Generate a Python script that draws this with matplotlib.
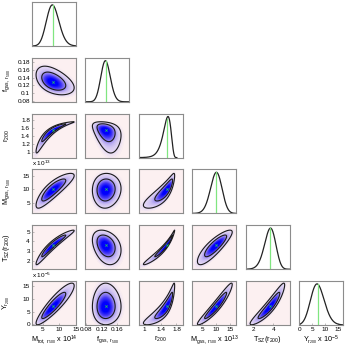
import numpy as np
import matplotlib
matplotlib.use("Agg")
import matplotlib.pyplot as plt
from matplotlib.colors import LinearSegmentedColormap

plt.rcParams['font.family'] = ['Liberation Sans', 'DejaVu Sans']
plt.rcParams['mathtext.fontset'] = 'custom'
plt.rcParams['mathtext.rm'] = 'Liberation Sans'
plt.rcParams['mathtext.it'] = 'Liberation Sans'

# ---- data ----
labels = [r"M$_{tot,\ r_{500}}$ x 10$^{14}$", r"f$_{gas,\ r_{500}}$", r"r$_{200}$",
          r"M$_{gas,\ r_{500}}$ x 10$^{13}$", r"T$_{SZ}$(r$_{200}$)", r"Y$_{r_{200}}$ x 10$^{-5}$"]
ylabels = [None, r"f$_{gas,\ r_{500}}$", r"r$_{200}$", r"M$_{gas,\ r_{500}}$",
           r"T$_{SZ}$(r$_{200}$)", r"Y$_{r_{200}}$"]
offset_texts = [None, None, None, r"x 10$^{13}$", None, r"x 10$^{-5}$"]
medians = [8.0, 0.130, 1.55, 10.0, 3.65, 7.0]
scales = [1.9, 0.0122, 0.11, 2.1, 0.58, 2.7]
skews = [0.08, 0.05, -0.35, -0.05, -0.1, 0.08]
contour_radii = [3.0, 1.9]   # outer / inner contour, in units of the scale
limits = [(1.7, 15.0), (0.078, 0.191), (0.85, 1.96), (1.3, 17.3), (1.16, 5.66), (-0.3, 17.0)]
xticks = [[5, 10, 15], [0.08, 0.12, 0.16], [1, 1.4, 1.8], [5, 10, 15], [2, 4], [0, 5, 10, 15]]
yticks = [None, [0.08, 0.1, 0.12, 0.14, 0.16, 0.18], [1, 1.2, 1.4, 1.6, 1.8],
          [5, 10, 15], [2, 3, 4, 5], [0, 5, 10, 15]]
# pairwise correlations (row i, column j)
corr = {(1, 0): -0.45, (2, 0): 0.96, (2, 1): -0.35, (3, 0): 0.85, (3, 1): 0.05,
        (3, 2): 0.85, (4, 0): 0.96, (4, 1): -0.3, (4, 2): 0.98, (4, 3): 0.85,
        (5, 0): 0.9, (5, 1): 0.0, (5, 2): 0.9, (5, 3): 0.95, (5, 4): 0.93}
# ------------------------------------

n = len(labels)


def transform(k, z):
    a = skews[k]
    return medians[k] + scales[k] * (np.exp(a * z) - 1) / a


lev_out = np.exp(-contour_radii[0] ** 2 / 2)
lev_in = np.exp(-contour_radii[1] ** 2 / 2)

bg = "#fcf0f1"
cmap = LinearSegmentedColormap.from_list(
    "corner", [(0.0, bg), (lev_out, "#e4d8f4"), (lev_in, "#a495f0"),
               (0.42, "#4c3ef6"), (0.8, "#0000ff"), (1.0, "#0000ff")], N=512)

W, H = 346, 361
fig = plt.figure(figsize=(W / 100, H / 100), dpi=100)
col_left = [32 + 53.4 * i for i in range(n)]
row_top = [2 + 55.8 * i for i in range(n)]
aw, ah = 44, 44

frame_col = "#8c8c8c"
fs = 4.6
zz = np.linspace(-5, 5, 300)

for i in range(n):
    for j in range(i + 1):
        ax = fig.add_axes([col_left[j] / W, 1 - (row_top[i] + ah) / H, aw / W, ah / H])
        for sp in ax.spines.values():
            sp.set_color(frame_col)
            sp.set_linewidth(0.8)
            sp.set_zorder(5)
        ax.tick_params(direction='in', length=1.5, width=0.4, color=frame_col,
                       labelsize=fs, pad=1.5)
        if i == j:
            x = transform(j, zz)
            a = skews[j]
            pdf = np.exp(-zz ** 2 / 2) / (scales[j] * np.exp(a * zz))
            ax.plot(x, pdf, color="#222222", lw=0.9)
            pk = pdf.max()
            pm = 1 / scales[j]
            ax.plot([medians[j], medians[j]], [0, pm], color="#80e680", lw=0.9)
            ax.set_ylim(0, pk * 1.07)
            ax.set_yticks([])
        else:
            ax.set_facecolor(bg)
            Z1, Z2 = np.meshgrid(zz, zz)
            r = corr[(i, j)]
            Q = (Z1 ** 2 - 2 * r * Z1 * Z2 + Z2 ** 2) / (1 - r ** 2)
            P = np.exp(-Q / 2)
            X = transform(j, Z1)
            Y = transform(i, Z2)
            ax.pcolormesh(X, Y, P, shading='gouraud', cmap=cmap, vmin=0, vmax=1,
                          rasterized=True)
            ax.contour(X, Y, P, levels=[lev_out, lev_in],
                       colors="#1a1a1a", linewidths=0.8)
            ax.plot(medians[j], medians[i], marker='x', color="#22cc55", ms=1.6, mew=0.5)
            ax.set_ylim(limits[i])
            if j == 0:
                ax.set_yticks(yticks[i])
                ax.set_yticklabels([("%g" % v) for v in yticks[i]])
                ax.set_ylabel(ylabels[i], fontsize=5.2)
                ax.yaxis.set_label_coords(-0.45, 0.5)
                if offset_texts[i]:
                    ax.text(0.0, 1.03, offset_texts[i], transform=ax.transAxes,
                            fontsize=fs, ha='left', va='bottom')
            else:
                ax.set_yticks([])
        ax.set_xlim(limits[j])
        if i == n - 1:
            ax.set_xticks(xticks[j])
            ax.set_xticklabels([("%g" % v) for v in xticks[j]])
            ax.set_xlabel(labels[j], fontsize=5.2)
            ax.xaxis.set_label_coords(0.5, -0.2)
        else:
            ax.set_xticks([])

fig.savefig("out.png", dpi=100)
